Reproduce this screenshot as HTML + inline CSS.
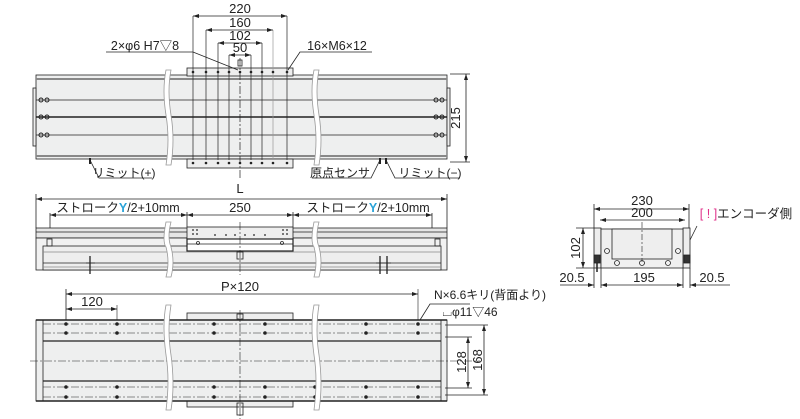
<!DOCTYPE html>
<html><head><meta charset="utf-8"><style>
html,body{margin:0;padding:0;background:#fff}
svg{display:block}
text{font-family:"Liberation Sans","Noto Sans CJK JP",sans-serif;fill:#222}
</style></head><body>
<svg width="800" height="419" viewBox="0 0 800 419" xmlns="http://www.w3.org/2000/svg">
<defs>
<marker id="a" markerWidth="6" markerHeight="6" refX="6" refY="3" orient="auto-start-reverse" markerUnits="userSpaceOnUse"><path d="M0,1 L6,3 L0,5z" fill="#222"/></marker>
</defs>
<g stroke="#222" stroke-width="0.8" fill="none">
<!-- ===== TOP VIEW ===== -->
<rect x="36" y="75" width="411" height="84" fill="#eeefef"/>
<rect x="33" y="88" width="3" height="58" fill="#eee"/>
<rect x="447" y="88" width="3" height="58" fill="#eee"/>
<line x1="36" y1="79" x2="447" y2="79" stroke="#888" stroke-width="2"/>
<line x1="36" y1="156" x2="447" y2="156" stroke="#888" stroke-width="2"/>
<line x1="36" y1="100" x2="447" y2="100"/>
<line x1="36" y1="117" x2="447" y2="117" stroke-width="1.5"/>
<line x1="36" y1="135" x2="447" y2="135"/>
<rect x="187" y="68" width="106" height="8" fill="#eee"/>
<rect x="187" y="159" width="106" height="9" fill="#eee"/>
<g stroke-width="0.7">
<line x1="193" y1="16" x2="193" y2="160"/><line x1="206" y1="30" x2="206" y2="160"/><line x1="218" y1="43" x2="218" y2="160"/><line x1="229" y1="55" x2="229" y2="160"/><line x1="240" y1="58" x2="240" y2="180" stroke-dasharray="8,2,2,2"/><line x1="251" y1="55" x2="251" y2="160"/><line x1="262" y1="43" x2="262" y2="160"/><line x1="273" y1="30" x2="273" y2="160" stroke="#999"/><line x1="287" y1="16" x2="287" y2="160"/>
</g>
<g fill="#222" stroke="none">
<circle cx="193" cy="72" r="1.3"/><circle cx="206" cy="72" r="1.3"/><circle cx="218" cy="72" r="1.3"/><circle cx="229" cy="72" r="1.3"/><circle cx="240" cy="72" r="1.3"/><circle cx="251" cy="72" r="1.3"/><circle cx="262" cy="72" r="1.3"/><circle cx="273" cy="72" r="1.3"/><circle cx="287" cy="72" r="1.3"/>
<circle cx="193" cy="163" r="1.3"/><circle cx="206" cy="163" r="1.3"/><circle cx="218" cy="163" r="1.3"/><circle cx="229" cy="163" r="1.3"/><circle cx="240" cy="163" r="1.3"/><circle cx="251" cy="163" r="1.3"/><circle cx="262" cy="163" r="1.3"/><circle cx="273" cy="163" r="1.3"/><circle cx="287" cy="163" r="1.3"/>
</g>
<g stroke-width="1"><circle cx="41" cy="100" r="2"/><circle cx="47" cy="100" r="2"/><circle cx="41" cy="117" r="2"/><circle cx="47" cy="117" r="2"/><circle cx="41" cy="135" r="2"/><circle cx="47" cy="135" r="2"/><circle cx="436" cy="100" r="2"/><circle cx="442" cy="100" r="2"/><circle cx="436" cy="117" r="2"/><circle cx="442" cy="117" r="2"/><circle cx="436" cy="135" r="2"/><circle cx="442" cy="135" r="2"/></g>
<path d="M166,70 q-4,20 0,45 q4,25 0,50 l5,0 q4,-25 0,-50 q-4,-25 0,-45z" fill="#fff" stroke="#999"/>
<path d="M314,70 q-4,20 0,45 q4,25 0,50 l5,0 q4,-25 0,-50 q-4,-25 0,-45z" fill="#fff" stroke="#999"/>
<line x1="193" y1="16" x2="287" y2="16" marker-start="url(#a)" marker-end="url(#a)"/>
<line x1="206" y1="30" x2="273" y2="30" marker-start="url(#a)" marker-end="url(#a)"/>
<line x1="218" y1="43" x2="262" y2="43" marker-start="url(#a)" marker-end="url(#a)"/>
<line x1="229" y1="55" x2="251" y2="55" marker-start="url(#a)" marker-end="url(#a)"/>
<rect x="238" y="60" width="4" height="6"/>
<polyline points="106,52 193,52 238,70"/>
<polyline points="372,52 300,52 288,70"/>
<line x1="450" y1="74" x2="470" y2="74"/><line x1="450" y1="162" x2="470" y2="162"/>
<line x1="466" y1="74" x2="466" y2="162" marker-start="url(#a)" marker-end="url(#a)"/>
<polyline points="90,160 99,178 152,178"/><line x1="90" y1="158" x2="90" y2="164" stroke-width="2"/>
<polyline points="380,160 371,178 312,178"/><line x1="380" y1="158" x2="380" y2="164" stroke-width="2"/>
<polyline points="386,160 395,178 460,178"/><line x1="386" y1="158" x2="386" y2="164" stroke-width="2"/>
<!-- ===== MIDDLE VIEW ===== -->
<line x1="36" y1="194" x2="36" y2="228"/><line x1="447" y1="194" x2="447" y2="228"/>
<line x1="36" y1="199" x2="447" y2="199" marker-start="url(#a)" marker-end="url(#a)"/>
<line x1="50" y1="215" x2="187" y2="215" marker-start="url(#a)" marker-end="url(#a)"/>
<line x1="187" y1="215" x2="293" y2="215" marker-start="url(#a)" marker-end="url(#a)"/>
<line x1="293" y1="215" x2="432" y2="215" marker-start="url(#a)" marker-end="url(#a)"/>
<line x1="50" y1="213" x2="50" y2="245"/><line x1="432" y1="213" x2="432" y2="245"/>
<line x1="187" y1="212" x2="187" y2="227"/><line x1="293" y1="212" x2="293" y2="227"/>
<rect x="36" y="228" width="411" height="10" fill="#e6e6e6"/>
<line x1="36" y1="232" x2="447" y2="232"/>
<rect x="36" y="238" width="411" height="32" fill="#f1f1f1"/>
<rect x="43" y="246" width="398" height="24" fill="#eee"/>
<line x1="43" y1="252" x2="441" y2="252" stroke="#888"/>
<line x1="43" y1="263" x2="441" y2="263"/>
<line x1="43" y1="267" x2="441" y2="267" stroke="#888"/>
<rect x="47" y="239" width="5" height="7"/><rect x="435" y="239" width="5" height="7"/>
<rect x="187" y="227" width="106" height="12" fill="#eee"/>
<g fill="#222" stroke="none"><circle cx="193" cy="230" r="0.9"/><circle cx="197" cy="230" r="0.9"/><circle cx="193" cy="234" r="0.9"/><circle cx="197" cy="234" r="0.9"/><circle cx="283" cy="230" r="0.9"/><circle cx="287" cy="230" r="0.9"/><circle cx="283" cy="234" r="0.9"/><circle cx="287" cy="234" r="0.9"/><circle cx="215" cy="235" r="0.9"/><circle cx="226" cy="235" r="0.9"/><circle cx="235" cy="235" r="0.9"/><circle cx="245" cy="235" r="0.9"/><circle cx="254" cy="235" r="0.9"/><circle cx="265" cy="235" r="0.9"/></g>
<rect x="187" y="239" width="106" height="12" fill="#fff" stroke-width="1.2"/>
<line x1="187" y1="244" x2="293" y2="244"/>
<circle cx="198" cy="243" r="1.5"/><circle cx="282" cy="243" r="1.5"/>
<rect x="237" y="252" width="6" height="7"/>
<line x1="240" y1="222" x2="240" y2="275" stroke-dasharray="8,2,2,2" stroke-width="0.6"/>
<line x1="90" y1="256" x2="90" y2="274" stroke-width="1.3"/><line x1="86" y1="263" x2="95" y2="263"/>
<line x1="380" y1="256" x2="380" y2="274" stroke-width="1.3"/><line x1="387" y1="256" x2="387" y2="274" stroke-width="1.3"/><line x1="376" y1="263" x2="391" y2="263"/>
<path d="M166,222 q-4,20 0,25 q4,15 0,30 l5,0 q4,-15 0,-30 q-4,-10 0,-25z" fill="#fff" stroke="#999"/>
<path d="M314,222 q-4,20 0,25 q4,15 0,30 l5,0 q4,-15 0,-30 q-4,-10 0,-25z" fill="#fff" stroke="#999"/>
<!-- ===== BOTTOM VIEW ===== -->
<line x1="66" y1="289" x2="66" y2="397"/><line x1="418" y1="289" x2="418" y2="397" stroke-width="0.6"/>
<line x1="117" y1="305" x2="117" y2="397" stroke-width="0.6"/>
<line x1="66" y1="294" x2="418" y2="294" marker-start="url(#a)" marker-end="url(#a)"/>
<line x1="66" y1="309" x2="117" y2="309" marker-start="url(#a)" marker-end="url(#a)"/>
<rect x="187" y="313" width="106" height="8" fill="#eee"/>
<rect x="187" y="400" width="106" height="7" fill="#eee"/>
<rect x="36" y="320" width="411" height="81" fill="#eeefef"/>
<rect x="43" y="320" width="398" height="81"/>
<line x1="36" y1="320" x2="447" y2="320" stroke-width="1.5"/>
<line x1="36" y1="401" x2="447" y2="401" stroke-width="1.5"/>
<line x1="43" y1="341" x2="441" y2="341" stroke-width="1.3"/>
<line x1="43" y1="381" x2="441" y2="381" stroke-width="1.3"/>
<g stroke-dasharray="8,2,2,2" stroke-width="0.6">
<line x1="43" y1="324" x2="441" y2="324"/><line x1="43" y1="333" x2="441" y2="333"/><line x1="43" y1="387" x2="441" y2="387"/><line x1="43" y1="397" x2="441" y2="397"/>
<line x1="30" y1="361" x2="480" y2="361"/><line x1="240" y1="310" x2="240" y2="419"/>
</g>
<g fill="#222" stroke="none">
<circle cx="66" cy="324" r="1.8"/><circle cx="117" cy="324" r="1.8"/><circle cx="214" cy="324" r="1.8"/><circle cx="265" cy="324" r="1.8"/><circle cx="315" cy="324" r="1.8"/><circle cx="366" cy="324" r="1.8"/><circle cx="418" cy="324" r="1.8"/>
<circle cx="66" cy="333" r="1.8"/><circle cx="117" cy="333" r="1.8"/><circle cx="214" cy="333" r="1.8"/><circle cx="265" cy="333" r="1.8"/><circle cx="315" cy="333" r="1.8"/><circle cx="366" cy="333" r="1.8"/><circle cx="418" cy="333" r="1.8"/>
<circle cx="66" cy="387" r="1.8"/><circle cx="117" cy="387" r="1.8"/><circle cx="214" cy="387" r="1.8"/><circle cx="265" cy="387" r="1.8"/><circle cx="315" cy="387" r="1.8"/><circle cx="366" cy="387" r="1.8"/><circle cx="418" cy="387" r="1.8"/>
<circle cx="66" cy="397" r="1.8"/><circle cx="117" cy="397" r="1.8"/><circle cx="214" cy="397" r="1.8"/><circle cx="265" cy="397" r="1.8"/><circle cx="315" cy="397" r="1.8"/><circle cx="366" cy="397" r="1.8"/><circle cx="418" cy="397" r="1.8"/>
</g>
<rect x="237" y="314" width="6" height="5"/>
<rect x="237" y="403" width="6" height="12"/>
<path d="M166,305 q-4,20 0,50 q4,25 0,55 l5,0 q4,-25 0,-55 q-4,-25 0,-50z" fill="#fff" stroke="#999"/>
<path d="M314,305 q-4,20 0,50 q4,25 0,55 l5,0 q4,-25 0,-55 q-4,-25 0,-50z" fill="#fff" stroke="#999"/>
<polyline points="470,304 430,304 420,320"/>
<line x1="445" y1="337" x2="472" y2="337"/><line x1="445" y1="388" x2="472" y2="388"/>
<line x1="445" y1="325" x2="488" y2="325"/><line x1="445" y1="395" x2="488" y2="395"/>
<line x1="468" y1="337" x2="468" y2="388" marker-start="url(#a)" marker-end="url(#a)"/>
<line x1="484" y1="325" x2="484" y2="395" marker-start="url(#a)" marker-end="url(#a)"/>
<!-- ===== SIDE VIEW ===== -->
<line x1="594" y1="204" x2="594" y2="228"/><line x1="689" y1="204" x2="689" y2="228"/>
<line x1="594" y1="209" x2="689" y2="209" marker-start="url(#a)" marker-end="url(#a)"/>
<line x1="600" y1="220" x2="685" y2="220" marker-start="url(#a)" marker-end="url(#a)"/>
<rect x="594" y="228" width="7" height="40" fill="#eee"/>
<rect x="683" y="228" width="7" height="40" fill="#eee"/>
<rect x="601" y="229" width="82" height="39" fill="#f0f0f0"/>
<rect x="612" y="229" width="60" height="30" fill="#eee"/>
<line x1="642" y1="222" x2="642" y2="262" stroke-dasharray="6,2,2,2" stroke-width="0.6"/>
<circle cx="607" cy="251" r="2.5"/><circle cx="678" cy="251" r="2.5"/>
<circle cx="617" cy="263" r="2.5"/><circle cx="642" cy="263" r="2.5"/><circle cx="668" cy="263" r="2.5"/>
<rect x="594" y="255" width="6" height="8" fill="#333"/><rect x="684" y="255" width="6" height="8" fill="#333"/>
<line x1="597" y1="263" x2="597" y2="272" stroke-width="1.5"/>
<polyline points="697,226 692,236 690,240"/>
<line x1="576" y1="228" x2="594" y2="228"/><line x1="576" y1="268" x2="594" y2="268"/>
<line x1="583" y1="228" x2="583" y2="268" marker-start="url(#a)" marker-end="url(#a)"/>
<line x1="594" y1="268" x2="594" y2="288"/><line x1="601" y1="268" x2="601" y2="288"/><line x1="683" y1="268" x2="683" y2="288"/><line x1="690" y1="268" x2="690" y2="288"/>
<line x1="560" y1="285" x2="594" y2="285" marker-end="url(#a)"/>
<line x1="601" y1="285" x2="683" y2="285" marker-start="url(#a)" marker-end="url(#a)"/>
<line x1="690" y1="285" x2="730" y2="285" marker-start="url(#a)"/>
</g>
<g font-size="13" text-anchor="middle">
<text x="240" y="13">220</text><text x="240" y="27">160</text><text x="240" y="40">102</text><text x="240" y="52">50</text>
<text x="145" y="50" font-size="12.5">2×φ6 H7▽8</text>
<text x="337" y="50" font-size="12.5">16×M6×12</text>
<text x="460" y="118" transform="rotate(-90 460 118)">215</text>
<text x="124" y="177" font-size="12">リミット(+)</text>
<text x="340" y="177" font-size="12">原点センサ</text>
<text x="430" y="177" font-size="12">リミット(−)</text>
<text x="240" y="193">L</text>
<text x="118" y="212" font-size="12.5">ストローク<tspan fill="#2aa3d8" font-weight="bold">Y</tspan>/2+10mm</text>
<text x="240" y="212">250</text>
<text x="368" y="212" font-size="12.5">ストローク<tspan fill="#2aa3d8" font-weight="bold">Y</tspan>/2+10mm</text>
<text x="240" y="291">P×120</text>
<text x="92" y="306">120</text>
<text x="490" y="299" font-size="12">N×6.6キリ(背面より)</text>
<text x="470" y="316" font-size="12">⌴φ11▽46</text>
<text x="466" y="362" transform="rotate(-90 466 362)">128</text>
<text x="482" y="360" transform="rotate(-90 482 360)">168</text>
<text x="642" y="205">230</text><text x="642" y="217">200</text>
<text x="580" y="248" transform="rotate(-90 580 248)">102</text>
<text x="572" y="282">20.5</text><text x="644" y="282">195</text><text x="712" y="282">20.5</text>
<text x="746" y="218" font-size="12.5"><tspan fill="#e0308a">[ ! ]</tspan>エンコーダ側</text>
</g>
</svg>
</body></html>
